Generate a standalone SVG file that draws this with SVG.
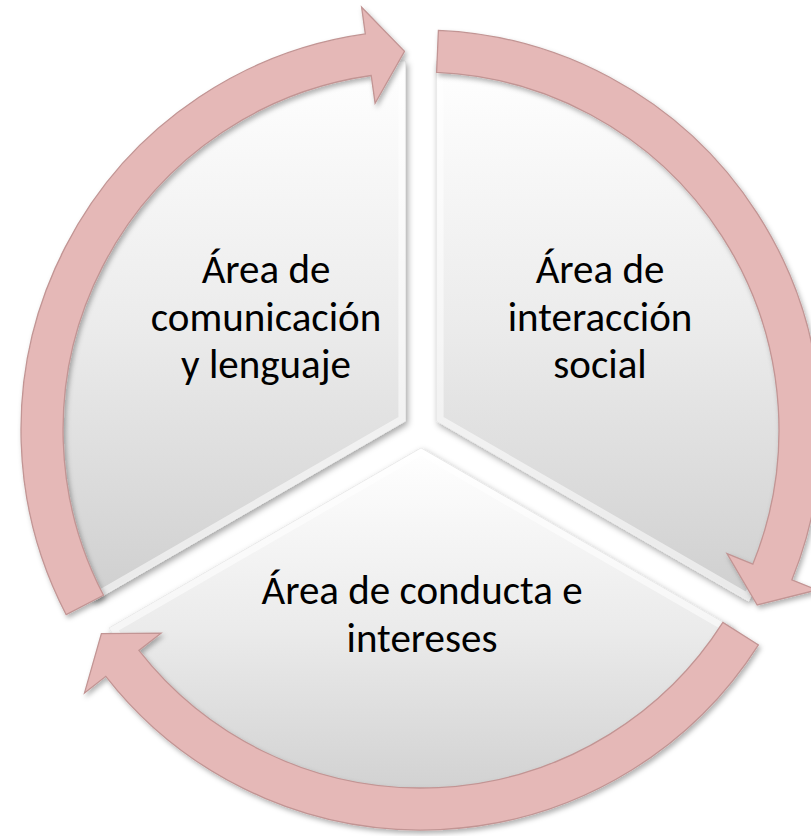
<svg xmlns="http://www.w3.org/2000/svg" width="811" height="836" viewBox="0 0 811 836">
  <style>
    .seg { stroke: #E4E4E4; stroke-width: 1; }
    .bevel { fill: none; stroke: #FFFFFF; stroke-width: 14; stroke-opacity: 0.55; }
    .arrow { fill: #E5B8B7; stroke: #C29594; stroke-width: 1.3; stroke-linejoin: miter; }
    .lbl { font-family: Carlito, Calibri, Lato, "Liberation Sans", sans-serif; font-size: 41px; fill: #000000; text-anchor: middle; }
  </style>
  <defs>
    <linearGradient id="gSeg" x1="0" y1="0" x2="0" y2="1">
      <stop offset="0" stop-color="#FFFFFF"/>
      <stop offset="0.5" stop-color="#EBEBEB"/>
      <stop offset="1" stop-color="#CFCFCF"/>
    </linearGradient>
    <filter id="shSeg" x="-10%" y="-10%" width="125%" height="125%">
      <feDropShadow dx="2" dy="3" stdDeviation="3" flood-color="#000000" flood-opacity="0.35"/>
    </filter>
    <filter id="shArr" x="-10%" y="-10%" width="125%" height="125%">
      <feDropShadow dx="2" dy="3" stdDeviation="2.5" flood-color="#000000" flood-opacity="0.3"/>
    </filter>
    <clipPath id="cL"><path d="M 405.4 421 L 93.6 601 A 360 360 0 0 1 405.4 61 Z"/></clipPath>
    <clipPath id="cR"><path d="M 436.6 421 L 436.6 61 A 360 360 0 0 1 748.4 601 Z"/></clipPath>
    <clipPath id="cB"><path d="M 421 448 L 732.8 628 A 360 360 0 0 1 109.2 628 Z"/></clipPath>
  </defs>

  <g id="node-comunicacion">
    <path class="seg" fill="url(#gSeg)" filter="url(#shSeg)" d="M 405.4 421 L 93.6 601 A 360 360 0 0 1 405.4 61 Z"/>
    <path class="bevel" clip-path="url(#cL)" d="M 405.4 421 L 93.6 601 A 360 360 0 0 1 405.4 61 Z"/>
    <text class="lbl"><tspan x="266" y="283">Área de</tspan><tspan x="266" y="331">comunicación</tspan><tspan x="266" y="378">y lenguaje</tspan></text>
  </g>

  <g id="node-interaccion">
    <path class="seg" fill="url(#gSeg)" filter="url(#shSeg)" d="M 436.6 421 L 436.6 61 A 360 360 0 0 1 748.4 601 Z"/>
    <path class="bevel" clip-path="url(#cR)" d="M 436.6 421 L 436.6 61 A 360 360 0 0 1 748.4 601 Z"/>
    <text class="lbl"><tspan x="600" y="283">Área de</tspan><tspan x="600" y="331">interacción</tspan><tspan x="600" y="378">social</tspan></text>
  </g>

  <g id="node-conducta">
    <path class="seg" fill="url(#gSeg)" filter="url(#shSeg)" d="M 421 448 L 732.8 628 A 360 360 0 0 1 109.2 628 Z"/>
    <path class="bevel" clip-path="url(#cB)" d="M 421 448 L 732.8 628 A 360 360 0 0 1 109.2 628 Z"/>
    <text class="lbl"><tspan x="422" y="604">Área de conducta e</tspan><tspan x="422" y="652">intereses</tspan></text>
  </g>

  <g id="connectors" filter="url(#shArr)">
    <path class="arrow" d="M 66.2 614.7 A 400 400 0 0 1 365.3 33.9 L 361.6 7.2 L 404.5 51.4 L 375.1 103.2 L 371.2 75.5 A 358 358 0 0 0 103.5 595.3 Z"/>
    <path class="arrow" d="M 438.4 30.4 A 400 400 0 0 1 791.9 579.8 L 816.9 590.0 L 757.2 605.0 L 727.0 553.6 L 752.9 564.1 A 358 358 0 0 0 436.6 72.3 Z"/>
    <path class="arrow" d="M 758.4 644.9 A 400 400 0 0 1 105.8 676.3 L 84.5 692.9 L 101.4 633.6 L 161.0 633.2 L 138.9 650.4 A 358 358 0 0 0 722.9 622.4 Z"/>
  </g>
</svg>
